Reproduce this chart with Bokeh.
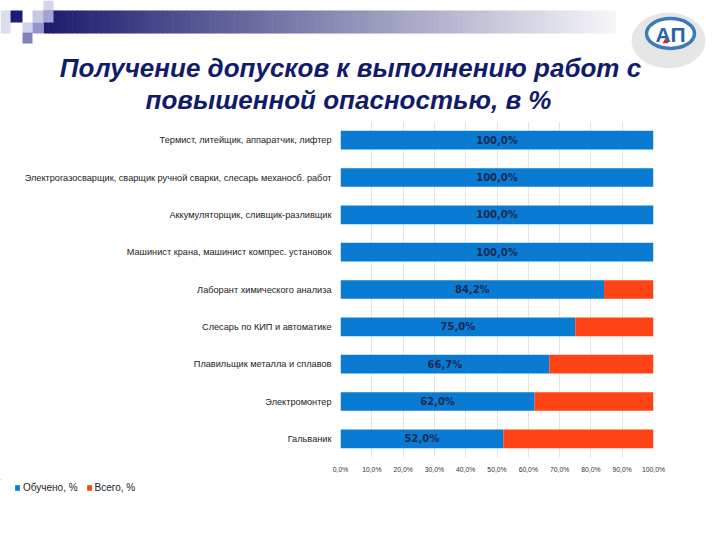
from bokeh.plotting import figure
from bokeh.models import (ColumnDataSource, Range1d, FactorRange, FixedTicker,
                          Legend, LegendItem)
from bokeh.layouts import column
from bokeh.core.properties import value
from bokeh.embed import file_html
from bokeh.resources import INLINE

# ---------------- data ----------------
categories = [
    "Термист, литейщик, аппаратчик, лифтер",
    "Электрогазосварщик, сварщик ручной сварки, слесарь механосб. работ",
    "Аккумуляторщик, сливщик-разливщик",
    "Машинист крана, машинист компрес. установок",
    "Лаборант химического анализа",
    "Слесарь по КИП и автоматике",
    "Плавильщик металла и сплавов",
    "Электромонтер",
    "Гальваник",
]
trained = [100.0, 100.0, 100.0, 100.0, 84.2, 75.0, 66.7, 62.0, 52.0]
total_rest = [0.0, 0.0, 0.0, 0.0, 15.8, 25.0, 33.3, 38.0, 48.0]
series_names = ["Обучено, %", "Всего, %"]
x_ticks = [0, 10, 20, 30, 40, 50, 60, 70, 80, 90, 100]
x_tick_labels = ["0,0%", "10,0%", "20,0%", "30,0%", "40,0%", "50,0%",
                 "60,0%", "70,0%", "80,0%", "90,0%", "100,0%"]
title_lines = ["Получение допусков к выполнению работ с",
               "повышенной опасностью, в %"]

BLUE = "#0a7bd2"
RED = "#ff4314"
NAVY = "#111c68"
W = 720

# ---------------- header (page pixel coordinates) ----------------
hdr = figure(width=W, height=121, x_range=Range1d(0, 720), y_range=Range1d(121, 0),
             output_backend="svg", toolbar_location=None, min_border=0)
hdr.frame_align = False
hdr.axis.visible = False
hdr.grid.visible = False
hdr.outline_line_color = None

# gradient band
n = 120
x0, x1 = 43, 615
c0 = (28, 28, 110)
c1 = (246, 246, 249)
lefts, rights, cols = [], [], []
for i in range(n):
    t = i / (n - 1)
    r = int(c0[0] + (c1[0] - c0[0]) * t)
    g = int(c0[1] + (c1[1] - c0[1]) * t)
    b = int(c0[2] + (c1[2] - c0[2]) * t)
    lefts.append(x0 + (x1 - x0) * i / n)
    rights.append(x0 + (x1 - x0) * (i + 1) / n + 0.6)
    cols.append("#%02x%02x%02x" % (r, g, b))
hdr.quad(left=lefts, right=rights, top=[10] * n, bottom=[33] * n,
         fill_color=cols, line_color=None)

# decorative squares
sq = [
    (0, 10, 10, 33, "#dcdcee"),
    (10, 22, 10, 22, "#1c1c78"),
    (32, 43, 10, 22, "#c8c8e4"),
    (43, 53, 0, 10, "#d4d4ea"),
    (43, 53, 10, 22, "#a4a4d2"),
    (22, 32, 22, 32, "#d2d2ea"),
    (32, 43, 22, 33, "#9494c8"),
    (22, 32, 32, 43, "#8282ba"),
]
hdr.quad(left=[s[0] for s in sq], right=[s[1] for s in sq],
         top=[s[2] for s in sq], bottom=[s[3] for s in sq],
         fill_color=[s[4] for s in sq], line_color=None)

# logo
hdr.ellipse(x=668, y=40, width=74, height=56, fill_color="#d6d6d6",
            fill_alpha=0.6, line_color=None)
hdr.ellipse(x=670, y=33, width=48, height=30, fill_color="white",
            line_color="#3c7ab8", line_width=3.5)
hdr.text(x=[670], y=[34], text=["АП"], text_align="center", text_baseline="middle",
         text_font=value("Liberation Sans"), text_font_style="bold",
         text_font_size="21px", text_color="#2a62a8")
hdr.scatter(x=[665], y=[41], marker="triangle", size=6, fill_color="#e02020",
            line_color=None)

# title
hdr.text(x=[350, 348], y=[67, 99], text=title_lines, text_align="center",
         text_baseline="middle", text_font=value("Liberation Sans"),
         text_font_style="bold italic", text_font_size="26px", text_color=NAVY)

# ---------------- chart ----------------
src = ColumnDataSource(dict(
    cat=categories,
    trained=trained,
    rest=total_rest,
    label_x=[v / 2 for v in trained],
    label=[("%.1f%%" % v).replace(".", ",") for v in trained],
))

p = figure(width=W, height=358, x_range=Range1d(0, 100),
           y_range=FactorRange(factors=list(reversed(categories)), range_padding=0),
           output_backend="svg", toolbar_location=None,
           min_border_left=340, min_border_right=67, min_border_top=0,
           min_border_bottom=22)
p.frame_align = False
p.outline_line_color = None
p.ygrid.visible = False
p.xgrid.grid_line_color = "#e4e4e4"
p.xgrid.ticker = FixedTicker(ticks=x_ticks)

rs = p.hbar_stack(["trained", "rest"], y="cat", height=0.5, color=[BLUE, RED],
                  line_color=None, source=src)

p.text(x="label_x", y="cat", text="label", source=src, text_align="center",
       text_baseline="middle", text_font=value("DejaVu Sans"),
       text_font_style="bold", text_font_size="10px", text_color="#1a2850")

xa = p.xaxis[0]
xa.ticker = FixedTicker(ticks=x_ticks)
xa.major_label_overrides = {t: l for t, l in zip(x_ticks, x_tick_labels)}
xa.axis_line_color = None
xa.major_tick_line_color = None
xa.minor_tick_line_color = None
xa.major_label_standoff = 2
xa.major_label_text_font = "Liberation Sans"
xa.major_label_text_font_size = "6.8px"
xa.major_label_text_color = "#333333"

ya = p.yaxis[0]
ya.axis_line_color = None
ya.major_tick_line_color = None
ya.minor_tick_line_color = None
ya.major_label_standoff = 3
ya.major_label_text_font = "Liberation Sans"
ya.major_label_text_font_size = "9.2px"
ya.major_label_text_color = "#222222"

# ---------------- footer with legend ----------------
ftr = figure(width=W, height=57, x_range=Range1d(0, 720), y_range=Range1d(0, 1),
             output_backend="svg", toolbar_location=None, min_border=0)
ftr.frame_align = False
ftr.axis.visible = False
ftr.grid.visible = False
ftr.outline_line_color = None
# legend proxies placed outside the visible range
lr0 = ftr.hbar(y=[5], left=[0], right=[1], height=0.5, color=BLUE, line_color=None)
lr1 = ftr.hbar(y=[5], left=[0], right=[1], height=0.5, color=RED, line_color=None)
legend = Legend(items=[LegendItem(label=series_names[0], renderers=[lr0]),
                       LegendItem(label=series_names[1], renderers=[lr1])],
                location=(14, 43), orientation="horizontal",
                glyph_width=6, glyph_height=7, label_standoff=3, spacing=8,
                padding=0, margin=0, border_line_color=None,
                background_fill_alpha=0,
                label_text_font="Liberation Sans", label_text_font_size="10px",
                label_text_color="#222222", label_height=12)
ftr.add_layout(legend, "center")

layout = column(hdr, p, ftr, spacing=0)
open("out.html", "w").write(file_html(layout, INLINE))
